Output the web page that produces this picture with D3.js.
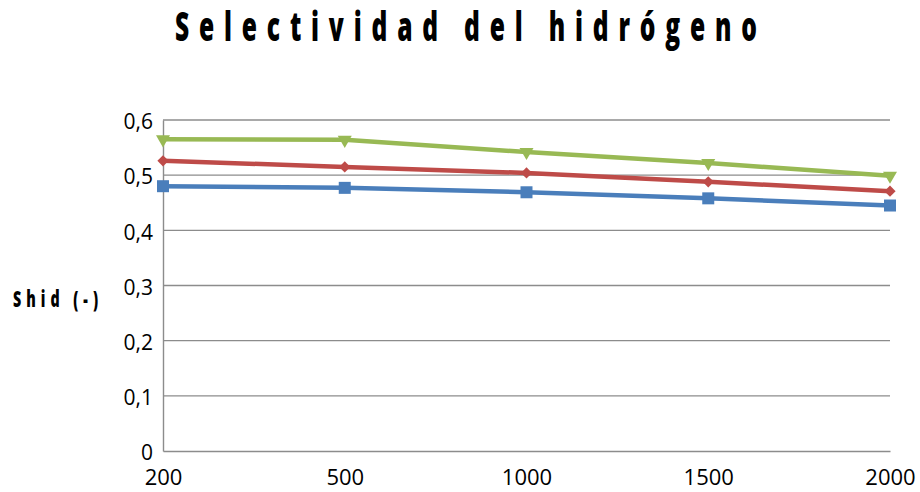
<!DOCTYPE html>
<html>
<head>
<meta charset="utf-8">
<script src="https://cdn.jsdelivr.net/npm/d3@7"></script>
<style>
  html, body { margin: 0; padding: 0; background: #fff; }
  svg { display: block; }
</style>
</head>
<body>
<svg id="chart" width="920" height="492"></svg>
<script>
// Categories along the horizontal axis
const categories = ["200", "500", "1000", "1500", "2000"];
// Hydrogen selectivity for each series
const seriesGreen = [0.565, 0.564, 0.542, 0.522, 0.499];
const seriesRed   = [0.526, 0.515, 0.504, 0.488, 0.471];
const seriesBlue  = [0.480, 0.477, 0.469, 0.458, 0.445];
const yTicks = [0, 0.1, 0.2, 0.3, 0.4, 0.5, 0.6];
const titleText = "Selectividad del hidrógeno";
const yLabelText = "Shid (-)";

const series = [
  { values: seriesBlue,  color: "#4a7ebb", symbol: d3.symbolSquare,   size: 144, rot: 0 },
  { values: seriesRed,   color: "#be4b48", symbol: d3.symbolDiamond2, size: 80,  rot: 0 },
  { values: seriesGreen, color: "#98b954", symbol: d3.symbolTriangle, size: 85,  rot: 180 }
];

const svg = d3.select("#chart");
const plotLeft = 163, plotRight = 890, plotTop = 120, plotBottom = 451;

const x = d3.scalePoint().domain(categories).range([plotLeft, plotRight]);
const y = d3.scaleLinear().domain([0, 0.6]).range([plotBottom, plotTop]);

// Gridlines
svg.append("g")
  .selectAll("line")
  .data(yTicks.filter(t => t > 0))
  .join("line")
  .attr("x1", plotLeft).attr("x2", plotRight)
  .attr("y1", d => y(d)).attr("y2", d => y(d))
  .attr("stroke", "#8c8c8c").attr("stroke-width", 1.4);

// Y axis
const yAxis = d3.axisLeft(y).tickValues(yTicks).tickSize(0)
  .tickFormat(d => d3.format(".1f")(d).replace(".", ",").replace(/^0,0$/, "0"));
const gy = svg.append("g").attr("transform", `translate(${plotLeft},0)`).call(yAxis);
gy.select(".domain").attr("stroke", "#8c8c8c").attr("stroke-width", 1.4);
gy.selectAll(".tick text")
  .attr("x", -10)
  .attr("dy", "0.42em")
  .style("font-family", "'Open Sans', sans-serif")
  .style("font-size", "21px")
  .attr("fill", "#000");

// X axis
const xAxis = d3.axisBottom(x).tickSize(0).tickPadding(18);
const gx = svg.append("g").attr("transform", `translate(0,${plotBottom})`).call(xAxis);
gx.select(".domain").attr("stroke", "#8c8c8c").attr("stroke-width", 1.4);
gx.selectAll(".tick text")
  .style("font-family", "'Open Sans', sans-serif")
  .style("font-size", "22px")
  .attr("fill", "#000");

// Lines and markers
const line = d3.line().x((d, i) => x(categories[i])).y(d => y(d));
series.forEach(s => {
  svg.append("path")
    .datum(s.values)
    .attr("d", line)
    .attr("fill", "none")
    .attr("stroke", s.color)
    .attr("stroke-width", 4.5)
    .attr("stroke-linejoin", "round");
  svg.append("g")
    .selectAll("path")
    .data(s.values)
    .join("path")
    .attr("d", d3.symbol().type(s.symbol).size(s.size))
    .attr("transform", (d, i) => `translate(${x(categories[i])},${y(d)}) rotate(${s.rot})`)
    .attr("fill", s.color);
});

// Title: condensed bold face with wide letter spacing
const titleScale = 0.6;
svg.append("g")
  .attr("transform", `translate(466,41) scale(${titleScale},1)`)
  .append("text")
  .attr("x", 0).attr("y", 0)
  .attr("text-anchor", "middle")
  .attr("textLength", 582 / titleScale).attr("lengthAdjust", "spacing")
  .style("font-family", "'Open Sans', sans-serif")
  .style("font-weight", "800")
  .style("font-size", "41px")
  .text(titleText);

// Y axis label
const labelScale = 0.62;
svg.append("g")
  .attr("transform", `translate(13,307) scale(${labelScale},1)`)
  .append("text")
  .attr("x", 0).attr("y", 0)
  .attr("textLength", 85 / labelScale).attr("lengthAdjust", "spacing")
  .style("font-family", "'Open Sans', sans-serif")
  .style("font-weight", "800")
  .style("font-size", "23px")
  .text(yLabelText);
</script>
</body>
</html>
